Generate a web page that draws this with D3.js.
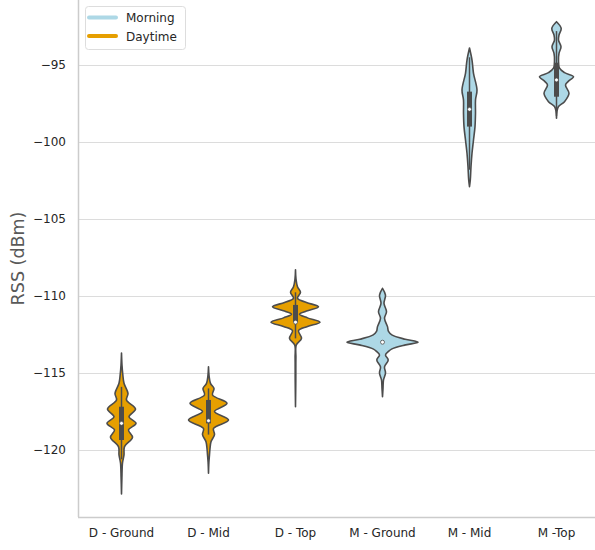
<!DOCTYPE html>
<html><head><meta charset="utf-8">
<script src="https://cdn.jsdelivr.net/npm/d3@7"></script>
<style>body{margin:0;background:#fff;} svg{display:block;font-family:"DejaVu Sans",sans-serif;}</style>
</head><body>
<svg id="chart" width="595" height="550"></svg>
<script>
const categories = ["D - Ground","D - Mid","D - Top","M - Ground","M - Mid","M -Top"];
const groups = ["Daytime","Daytime","Daytime","Morning","Morning","Morning"];
const legendLabels = ["Morning","Daytime"];
const yTicks = [-95,-100,-105,-110,-115,-120];

// density profiles: [RSS value, relative density]
const densDGround = [[-113.7,0],[-114.5,0.5],[-115.1,1.3],[-115.67,2.5],[-116.32,6.5],[-116.75,5],[-117.34,14],[-117.84,7.5],[-118.27,14.5],[-118.7,7],[-119.18,11],[-119.78,3],[-120.32,2.5],[-120.84,1],[-121.8,0.4],[-122.86,0]];
const densDMid = [[-114.6,0],[-115.2,0.6],[-115.67,2],[-116.0,5.5],[-116.43,4],[-116.97,18.5],[-117.5,6],[-118.05,20],[-118.6,5],[-119.0,6],[-119.46,2.5],[-119.9,1.5],[-120.3,1],[-120.8,0.4],[-121.5,0]];
const densDTop = [[-108.3,0],[-108.9,0.5],[-109.4,2],[-109.76,5],[-110.15,2],[-110.42,11],[-110.7,23],[-110.98,11],[-111.19,4],[-111.42,12],[-111.7,24.5],[-111.98,12],[-112.25,3],[-112.75,6],[-113.18,0.8],[-114,0.4],[-115.5,0.3],[-117.19,0]];
const densMGround = [[-109.5,0],[-109.94,3],[-110.48,1.5],[-111.02,4],[-111.45,2],[-111.99,5],[-112.3,6],[-112.52,9.3],[-112.81,22.7],[-113.0,35.5],[-113.19,22],[-113.45,9],[-113.6,6],[-113.83,3],[-114.16,5.7],[-114.6,2],[-115.0,3],[-115.45,1],[-116.0,0.5],[-116.54,0]];
const densMMid = [[-93.9,0],[-94.68,2.5],[-95.54,4],[-96.62,7.5],[-97.27,6],[-98.14,6],[-99.0,5.5],[-99.87,4],[-100.73,2.5],[-101.6,1.5],[-102.47,0.8],[-102.9,0]];
const densMTop = [[-92.19,0],[-92.62,4.7],[-93.05,2.5],[-93.38,2],[-93.81,4.5],[-94.24,2.5],[-94.68,2],[-95.21,3],[-95.5,8],[-95.76,17],[-96.05,12],[-96.3,9],[-96.84,12.5],[-97.38,8],[-97.7,2],[-98.0,0.5],[-98.46,0]];
const densities = [densDGround,densDMid,densDTop,densMGround,densMMid,densMTop];

// box stats
const q1 = [-119.35,-118.27,-111.7,-113.0,-99.0,-97.06];
const medians = [-118.27,-118.1,-111.7,-113.0,-97.88,-95.97];
const q3 = [-117.19,-116.75,-110.58,-113.0,-96.73,-94.85];
const whiskLow = [-120.6,-119.0,-112.75,-113.0,-101.8,-98.3];
const whiskHigh = [-115.9,-116.0,-109.76,-113.0,-94.5,-92.8];

const colors = {Morning:"#add8e6", Daytime:"#e69f00"};
const edge = "#4c4c4c";

const svg = d3.select("#chart");
const margin = {left:78, top:0, right:-5, bottom:33};
const W = 595, H = 550;
const x = d3.scaleBand().domain(categories).range([margin.left, W - margin.right]);
const y = d3.scaleLinear().domain([-124.35,-90.78]).range([H - margin.bottom, margin.top]);
const maxD = d3.max(densities.flat(), d => d[1]);
const w = d3.scaleLinear().domain([0, maxD]).range([0, 35.5]);

// grid
svg.append("g").selectAll("line").data(yTicks).join("line")
  .attr("x1", margin.left).attr("x2", W)
  .attr("y1", d => Math.round(y(d))+0.5).attr("y2", d => Math.round(y(d))+0.5)
  .attr("stroke", "#dcdcdc").attr("stroke-width", 1.2);

// y axis
const yAxis = d3.axisLeft(y).tickValues(yTicks).tickSize(0).tickPadding(12)
  .tickFormat(d => String(d).replace("-", "\u2212"));
const ga = svg.append("g").attr("transform", `translate(${margin.left},0)`).call(yAxis);
ga.select(".domain").remove();
ga.selectAll("text").attr("font-size", 12).attr("fill", "#262626").attr("font-family", "DejaVu Sans");

// x axis
const xAxis = d3.axisBottom(x).tickSize(0).tickPadding(11);
const gx = svg.append("g").attr("transform", `translate(0,${H - margin.bottom})`).call(xAxis);
gx.select(".domain").remove();
gx.selectAll("text").attr("font-size", 12).attr("fill", "#262626").attr("font-family", "DejaVu Sans");

// spines
svg.append("line").attr("x1", margin.left+0.5).attr("x2", margin.left+0.5).attr("y1", 0).attr("y2", H - margin.bottom)
  .attr("stroke", "#cccccc").attr("stroke-width", 1.5);
svg.append("line").attr("x1", margin.left).attr("x2", W).attr("y1", H - margin.bottom+0.5).attr("y2", H - margin.bottom+0.5)
  .attr("stroke", "#cccccc").attr("stroke-width", 1.5);

// violins
categories.forEach((c, i) => {
  const cx = x(c) + x.bandwidth()/2;
  const area = d3.area()
    .y(d => y(d[0]))
    .x0(d => cx - w(d[1]))
    .x1(d => cx + w(d[1]))
    .curve(d3.curveCatmullRom.alpha(0.5));
  const g = svg.append("g");
  g.append("path").datum(densities[i]).attr("d", area)
    .attr("fill", colors[groups[i]]).attr("stroke", edge).attr("stroke-width", 1.6)
    .attr("stroke-linejoin", "round");
  g.append("line").attr("x1", cx).attr("x2", cx)
    .attr("y1", y(whiskHigh[i])).attr("y2", y(whiskLow[i]))
    .attr("stroke", edge).attr("stroke-width", 1.5);
  if (q3[i] !== q1[i]) {
    g.append("line").attr("x1", cx).attr("x2", cx)
      .attr("y1", y(q3[i])).attr("y2", y(q1[i]))
      .attr("stroke", edge).attr("stroke-width", 5);
  }
  g.append("circle").attr("cx", cx).attr("cy", y(medians[i])).attr("r", 2)
    .attr("fill", "#ffffff").attr("stroke", edge).attr("stroke-width", 0.8);
});

// y label
svg.append("text").attr("transform", `translate(24,${(H - margin.bottom)/2}) rotate(-90)`)
  .attr("text-anchor", "middle").attr("font-size", 17.5).attr("fill", "#595959")
  .attr("font-family", "DejaVu Sans").text("RSS (dBm)");

// legend
const lg = svg.append("g");
lg.append("rect").attr("x", 85.5).attr("y", 6.5).attr("width", 100).attr("height", 43).attr("rx", 3)
  .attr("fill", "#ffffff").attr("fill-opacity", 0.85).attr("stroke", "#dddddd");
legendLabels.forEach((l, i) => {
  const ly = 17.5 + i*18.5;
  lg.append("line").attr("x1", 89).attr("x2", 116).attr("y1", ly).attr("y2", ly)
    .attr("stroke", colors[l]).attr("stroke-width", 4).attr("stroke-linecap", "round");
  lg.append("text").attr("x", 126).attr("y", ly + 4.5).attr("font-size", 12)
    .attr("fill", "#262626").attr("font-family", "DejaVu Sans").text(l);
});
</script>
</body></html>
